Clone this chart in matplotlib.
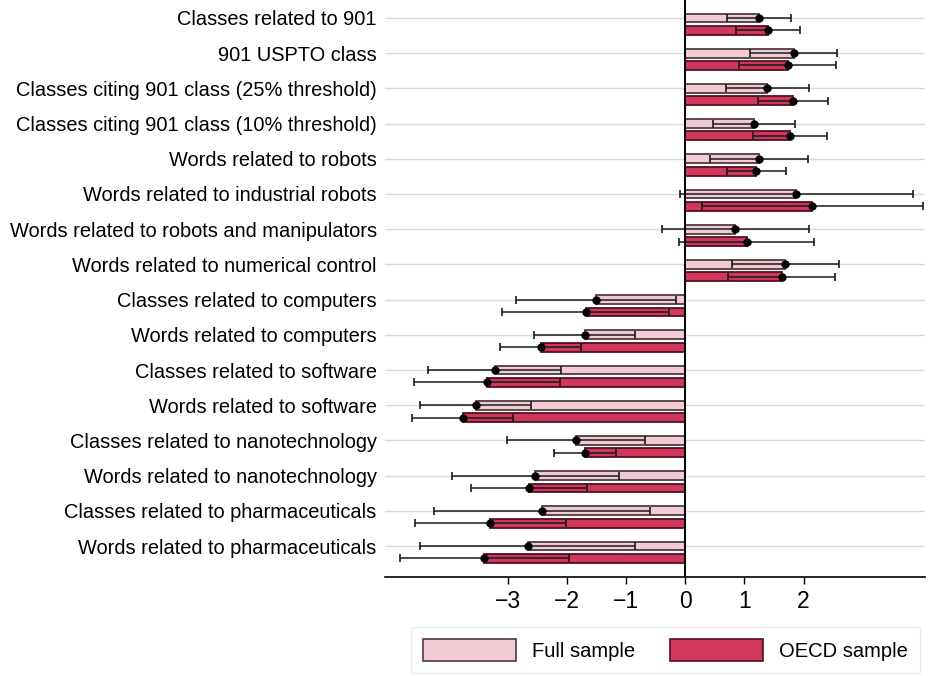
#!/usr/bin/env python3
"""Horizontal bar chart: robot/technology exposure coefficients, full vs OECD sample."""

import matplotlib
matplotlib.use("Agg")
import matplotlib.pyplot as plt
import matplotlib.patches as mpatches
import numpy as np

CATEGORIES = [
    "Classes related to 901",
    "901 USPTO class",
    "Classes citing 901 class (25% threshold)",
    "Classes citing 901 class (10% threshold)",
    "Words related to robots",
    "Words related to industrial robots",
    "Words related to robots and manipulators",
    "Words related to numerical control",
    "Classes related to computers",
    "Words related to computers",
    "Classes related to software",
    "Words related to software",
    "Classes related to nanotechnology",
    "Words related to nanotechnology",
    "Classes related to pharmaceuticals",
    "Words related to pharmaceuticals",
]

# point estimates and 95% CI half-widths
full_est = [1.25, 1.83, 1.39, 1.16, 1.25, 1.88, 0.85, 1.69,
            -1.50, -1.70, -3.22, -3.54, -1.84, -2.53, -2.42, -2.66]
full_ci = [0.54, 0.74, 0.70, 0.69, 0.83, 1.97, 1.24, 0.90,
           1.35, 0.86, 1.13, 0.93, 1.17, 1.41, 1.83, 1.82]
oecd_est = [1.40, 1.73, 1.82, 1.77, 1.20, 2.15, 1.04, 1.63,
            -1.68, -2.44, -3.35, -3.76, -1.69, -2.63, -3.29, -3.39]
oecd_ci = [0.54, 0.82, 0.59, 0.63, 0.50, 1.87, 1.14, 0.90,
           1.41, 0.68, 1.23, 0.85, 0.52, 0.98, 1.28, 1.43]

XTICKS = [-3, -2, -1, 0, 1, 2]

COLORS = {
    "full": "#f2cad4",
    "full_edge": "#4f3a40",
    "oecd": "#cf385c",
    "oecd_edge": "#55101f",
    "grid": "#d9d9d9",
}

plt.rcParams.update({
    "font.family": ["Liberation Sans", "DejaVu Sans"],
    "axes.unicode_minus": True,
})

fig = plt.figure(figsize=(9.31, 6.76), dpi=100)
ax = fig.add_axes([0.4135, 0.1464, 0.58, 0.8536])

y = np.arange(len(CATEGORIES))
offset = 0.35
height = 0.25

for yy in y:
    ax.axhline(yy, color=COLORS["grid"], lw=1.0, zorder=0)

ax.barh(y, full_est, height=height, color=COLORS["full"],
        edgecolor=COLORS["full_edge"], linewidth=1.3, zorder=2)
ax.barh(y + offset, oecd_est, height=height, color=COLORS["oecd"],
        edgecolor=COLORS["oecd_edge"], linewidth=1.3, zorder=2)

err_kw = dict(fmt="o", color="black", ecolor="#1a1a1a", elinewidth=1.1,
              capsize=3.0, capthick=1.2, markersize=5, zorder=3)
ax.errorbar(full_est, y, xerr=full_ci, **err_kw)
ax.errorbar(oecd_est, y + offset, xerr=oecd_ci, **err_kw)

ax.axvline(0, color="black", lw=1.4, zorder=4)

ax.set_xlim(-5.07, 4.05)
ax.set_ylim(15.88, -0.51)
ax.set_xticks(XTICKS)
ax.set_xticklabels([f"{t}".replace("-", "\u2212") for t in XTICKS], fontsize=16.5)
ax.tick_params(axis="x", direction="out", length=5, width=1, pad=4)
ax.set_yticks(y)
ax.set_yticklabels(CATEGORIES, fontsize=14.4)
ax.tick_params(axis="y", length=0, pad=6)

for side in ("top", "right", "left"):
    ax.spines[side].set_visible(False)
ax.spines["bottom"].set_linewidth(1.2)

handles = [
    mpatches.Patch(facecolor=COLORS["full"], edgecolor=COLORS["full_edge"], lw=1.2, label="Full sample"),
    mpatches.Patch(facecolor=COLORS["oecd"], edgecolor=COLORS["oecd_edge"], lw=1.2, label="OECD sample"),
]
leg = fig.legend(handles=handles, ncol=2, loc="lower left", bbox_to_anchor=(0.4415, 0.004),
                 fontsize=14.5, handlelength=4.6, handleheight=1.3, columnspacing=1.75,
                 handletextpad=0.8, frameon=True, fancybox=False, borderpad=0.6,
                 borderaxespad=0.0)
leg.get_frame().set_edgecolor("#e4e8ec")
leg.get_frame().set_linewidth(1.0)

fig.savefig("out.png", dpi=100, facecolor="white")
